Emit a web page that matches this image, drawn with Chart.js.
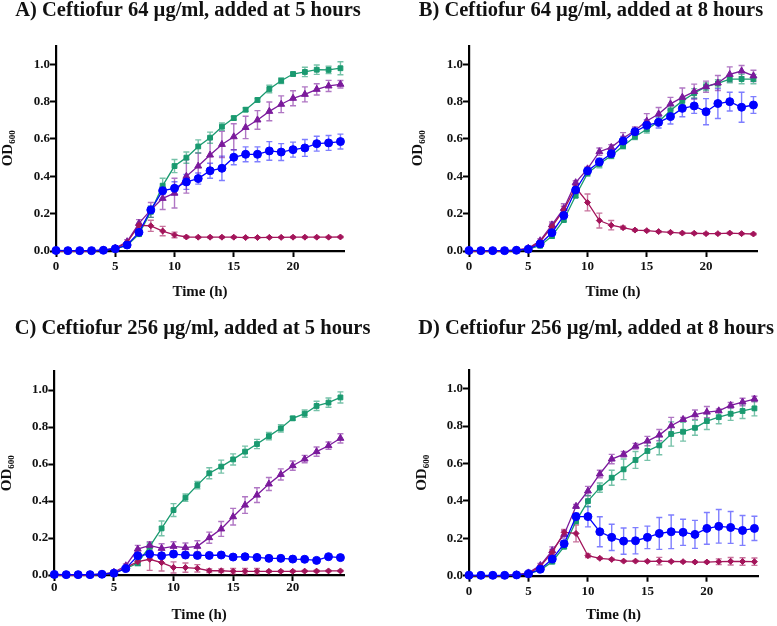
<!DOCTYPE html>
<html>
<head>
<meta charset="utf-8">
<script src="https://cdn.jsdelivr.net/npm/chart.js@4.4.1/dist/chart.umd.min.js"></script>
<style>
  body { margin: 0; background: #fff; }
  #wrap { position: relative; width: 777px; height: 626px; overflow: hidden; }
  canvas { position: absolute; }
</style>
</head>
<body>
<div id="wrap">
  <canvas id="chartA" width="376" height="305" style="left:0px;top:0px"></canvas>
  <canvas id="chartB" width="372" height="305" style="left:405px;top:0px"></canvas>
  <canvas id="chartC" width="385" height="308" style="left:0px;top:318px"></canvas>
  <canvas id="chartD" width="362" height="308" style="left:415px;top:318px"></canvas>
</div>
<script>
// time points (h) and axis ticks
const hours = [0,1,2,3,4,5,6,7,8,9,10,11,12,13,14,15,16,17,18,19,20,21,22,23,24];
const xTicks = [0, 5, 10, 15, 20];
const yTicks = [0, 0.2, 0.4, 0.6, 0.8, 1.0];

// Panel A - 64 ug/ml at 5 h
const aGreen = [0,0,0,0,0.005,0.012,0.03,0.09,0.21,0.35,0.455,0.5,0.56,0.607,0.666,0.712,0.757,0.809,0.868,0.912,0.948,0.959,0.971,0.97,0.979];
const aGreenErr = [0,0,0,0,0,0.003,0.005,0.01,0.03,0.04,0.035,0.03,0.035,0.03,0.02,0.01,0.01,0.01,0.02,0.015,0.01,0.025,0.025,0.02,0.035];
const aPurple = [0,0,0,0,0.005,0.015,0.05,0.148,0.22,0.282,0.31,0.4,0.455,0.514,0.571,0.612,0.662,0.702,0.748,0.786,0.818,0.839,0.866,0.884,0.893];
const aPurpleErr = [0,0,0,0.01,0,0.005,0.01,0.02,0.04,0.06,0.08,0.09,0.07,0.09,0.07,0.07,0.06,0.05,0.05,0.045,0.04,0.04,0.03,0.03,0.02];
const aBlue = [0.003,0.002,0.002,0.002,0.004,0.012,0.032,0.1,0.22,0.323,0.336,0.37,0.388,0.43,0.443,0.502,0.518,0.518,0.536,0.53,0.543,0.552,0.575,0.579,0.586];
const aBlueErr = [0,0,0,0,0,0.005,0.005,0.01,0.02,0.02,0.035,0.04,0.03,0.04,0.065,0.04,0.04,0.04,0.05,0.045,0.04,0.045,0.04,0.04,0.04];
const aRed = [0,0,0,0,0.005,0.012,0.045,0.138,0.135,0.107,0.086,0.075,0.074,0.074,0.074,0.074,0.072,0.072,0.073,0.073,0.074,0.074,0.074,0.074,0.075];
const aRedErr = [0,0,0,0,0,0.003,0.005,0.01,0.03,0.025,0.015,0.005,0.004,0.004,0.004,0.004,0.004,0.004,0.004,0.004,0.004,0.004,0.004,0.004,0.004];

// Panel B - 64 ug/ml at 8 h
const bGreen = [0,0,0,0,0.003,0.01,0.028,0.08,0.166,0.296,0.416,0.466,0.51,0.562,0.612,0.652,0.693,0.752,0.804,0.845,0.88,0.898,0.921,0.921,0.921];
const bGreenErr = [0,0,0,0,0,0.003,0.005,0.01,0.01,0.01,0.015,0.02,0.015,0.015,0.015,0.02,0.02,0.02,0.02,0.025,0.02,0.02,0.02,0.025,0.025];
const bPurple = [0,0,0,0,0.005,0.015,0.055,0.14,0.228,0.366,0.44,0.532,0.555,0.604,0.645,0.696,0.734,0.788,0.823,0.854,0.88,0.9,0.946,0.964,0.938];
const bPurpleErr = [0,0,0,0.01,0,0.005,0.01,0.015,0.025,0.01,0.01,0.02,0.015,0.03,0.02,0.04,0.035,0.035,0.05,0.04,0.03,0.04,0.04,0.03,0.03];
const bBlue = [0.003,0.002,0.002,0.002,0.004,0.01,0.038,0.098,0.19,0.327,0.429,0.477,0.521,0.589,0.639,0.673,0.689,0.72,0.764,0.777,0.746,0.79,0.8,0.77,0.782];
const bBlueErr = [0,0,0,0,0,0.003,0.005,0.01,0.01,0.01,0.015,0.02,0.02,0.025,0.02,0.03,0.03,0.04,0.045,0.04,0.07,0.08,0.05,0.08,0.045];
const bRed = [0,0,0,0,0.005,0.012,0.05,0.13,0.22,0.34,0.26,0.163,0.138,0.125,0.112,0.109,0.104,0.1,0.096,0.095,0.093,0.093,0.096,0.093,0.091];
const bRedErr = [0,0,0,0,0,0.003,0.005,0.015,0.02,0.01,0.045,0.04,0.025,0.008,0.005,0.005,0.005,0.005,0.005,0.005,0.005,0.005,0.005,0.005,0.005];

// Panel C - 256 ug/ml at 5 h
const cGreen = [0,0,0,0,0.004,0.01,0.034,0.065,0.153,0.252,0.351,0.418,0.486,0.55,0.586,0.625,0.667,0.708,0.751,0.793,0.847,0.872,0.914,0.932,0.96];
const cGreenErr = [0,0,0,0,0,0.003,0.005,0.015,0.02,0.04,0.035,0.02,0.02,0.03,0.035,0.03,0.03,0.025,0.02,0.02,0.01,0.02,0.025,0.025,0.03];
const cPurple = [0,0,0,0,0.005,0.015,0.05,0.14,0.16,0.144,0.155,0.148,0.155,0.202,0.249,0.315,0.378,0.432,0.492,0.544,0.591,0.627,0.667,0.699,0.739];
const cPurpleErr = [0,0,0,0.01,0,0.005,0.01,0.02,0.02,0.025,0.025,0.025,0.03,0.03,0.04,0.045,0.045,0.04,0.035,0.03,0.025,0.02,0.025,0.02,0.025];
const cBlue = [0.003,0.002,0.002,0.002,0.004,0.01,0.035,0.104,0.113,0.104,0.113,0.108,0.106,0.106,0.108,0.097,0.099,0.095,0.09,0.09,0.086,0.085,0.079,0.099,0.094];
const cBlueErr = [0,0,0,0,0,0.003,0.005,0.01,0.005,0.005,0.015,0.015,0.015,0.015,0.01,0.005,0.005,0.005,0.005,0.005,0.005,0.005,0.005,0.005,0.005];
const cRed = [0,0,0,0,0.004,0.01,0.04,0.072,0.085,0.067,0.041,0.04,0.036,0.023,0.023,0.02,0.02,0.02,0.02,0.02,0.02,0.021,0.021,0.022,0.022];
const cRedErr = [0,0,0,0,0,0.003,0.005,0.02,0.06,0.045,0.03,0.025,0.02,0.01,0.01,0.015,0.015,0.015,0.005,0.004,0.004,0.004,0.005,0.004,0.004];

// Panel D - 256 ug/ml at 8 h
const dGreen = [0,0,0,0,0.004,0.01,0.03,0.075,0.155,0.292,0.399,0.471,0.524,0.569,0.619,0.667,0.697,0.758,0.77,0.791,0.827,0.848,0.866,0.881,0.895];
const dGreenErr = [0,0,0,0,0,0.003,0.005,0.01,0.01,0.015,0.03,0.025,0.04,0.055,0.045,0.05,0.05,0.065,0.05,0.04,0.045,0.035,0.035,0.04,0.04];
const dPurple = [0,0,0,0,0.005,0.015,0.055,0.134,0.221,0.371,0.453,0.544,0.624,0.649,0.693,0.72,0.752,0.802,0.836,0.861,0.875,0.882,0.911,0.929,0.945];
const dPurpleErr = [0,0,0,0.01,0,0.005,0.01,0.02,0.02,0.01,0.025,0.02,0.025,0.015,0.015,0.025,0.03,0.045,0.01,0.025,0.03,0.01,0.015,0.02,0.015];
const dBlue = [0.003,0.002,0.002,0.002,0.004,0.01,0.035,0.089,0.171,0.316,0.316,0.235,0.205,0.185,0.187,0.205,0.226,0.235,0.232,0.221,0.253,0.264,0.258,0.242,0.253];
const dBlueErr = [0,0,0,0,0,0.003,0.005,0.01,0.01,0.02,0.055,0.08,0.07,0.07,0.07,0.06,0.085,0.09,0.07,0.075,0.085,0.09,0.085,0.08,0.065];
const dRed = [0,0,0,0,0.004,0.01,0.05,0.125,0.232,0.226,0.107,0.093,0.087,0.078,0.078,0.077,0.078,0.076,0.075,0.073,0.073,0.075,0.077,0.076,0.075];
const dRedErr = [0,0,0,0,0,0.003,0.005,0.015,0.015,0.045,0.01,0.005,0.005,0.004,0.004,0.004,0.02,0.004,0.004,0.004,0.004,0.015,0.02,0.02,0.02];

const serif = "'Liberation Serif', 'Times New Roman', 'DejaVu Serif', serif";
Chart.defaults.font.family = serif;
Chart.defaults.color = "#000";

// marker look for each series
const styles = {
  blue:   { color: "#0000ff", err: "rgba(40,40,255,0.6)",  shape: "circle",   r: 4 },
  red:    { color: "#a3145a", err: "rgba(163,20,90,0.6)",  shape: "rectRot",  r: 3 },
  purple: { color: "#7b1a9c", err: "rgba(123,26,156,0.6)", shape: "triangle", r: 4 },
  green:  { color: "#1a9a70", err: "rgba(26,154,112,0.6)", shape: "rect",     r: 3.4 },
};

// draws mean +/- SD whiskers from each dataset's errors array
const errorBars = {
  id: "errorBars",
  beforeDatasetsDraw(chart) {
    const ctx = chart.ctx;
    const xs = chart.scales.x;
    const ys = chart.scales.y;
    chart.data.datasets.forEach((ds) => {
      ctx.save();
      ctx.strokeStyle = ds.errorColor;
      ctx.lineWidth = 1.4;
      ds.data.forEach((pt, j) => {
        const e = ds.errors[j];
        if (!e) return;
        const px = xs.getPixelForValue(pt.x);
        const hi = ys.getPixelForValue(pt.y + e);
        const lo = ys.getPixelForValue(pt.y - e);
        ctx.beginPath();
        ctx.moveTo(px, hi);
        ctx.lineTo(px, lo);
        ctx.moveTo(px - 3, hi);
        ctx.lineTo(px + 3, hi);
        ctx.moveTo(px - 3, lo);
        ctx.lineTo(px + 3, lo);
        ctx.stroke();
      });
      ctx.restore();
    });
  },
};

function makeDataset(key, vals, errs) {
  const s = styles[key];
  return {
    label: key,
    data: hours.map((h, i) => ({ x: h, y: vals[i] })),
    errors: errs,
    errorColor: s.err,
    borderColor: s.color,
    backgroundColor: s.color,
    borderWidth: 1.3,
    pointStyle: s.shape,
    pointRadius: s.r,
    pointBorderWidth: 1,
    pointBorderColor: s.color,
    pointBackgroundColor: s.color,
    clip: false,
  };
}

function makeChart(id, title, sets, box) {
  const axisFont = { family: serif, size: 13, weight: "bold", lineHeight: 1 };
  const titleFont = { family: serif, size: 15, weight: "bold", lineHeight: 1 };
  return new Chart(document.getElementById(id), {
    type: "line",
    data: { datasets: sets },
    options: {
      responsive: false,
      animation: false,
      layout: { padding: 0 },
      plugins: {
        legend: { display: false },
        tooltip: { enabled: false },
        title: {
          display: true,
          text: title,
          color: "#111",
          font: { family: serif, size: 20.5, weight: "bold", lineHeight: 0.88 },
          padding: { top: 2, bottom: box.titleGap - 2 },
        },
      },
      scales: {
        x: {
          type: "linear",
          min: 0,
          max: 24.3,
          afterBuildTicks: (s) => { s.ticks = xTicks.map((v) => ({ value: v })); },
          afterFit: (s) => { s.height = box.xHeight; },
          grid: { drawOnChartArea: false, drawTicks: true, tickLength: 6, tickColor: "#000", tickWidth: 2 },
          border: { color: "#000", width: 2.2 },
          ticks: { font: axisFont, padding: box.xTickPad, maxRotation: 0, color: "#111" },
          title: { display: true, text: "Time (h)", font: titleFont, color: "#111", padding: { top: 0, bottom: box.xTitlePad } },
        },
        y: {
          type: "linear",
          min: 0,
          max: 1.1,
          afterBuildTicks: (s) => { s.ticks = yTicks.map((v) => ({ value: v })); },
          afterFit: (s) => { s.width = box.yWidth; },
          grid: { drawOnChartArea: false, drawTicks: true, tickLength: 6, tickColor: "#000", tickWidth: 2 },
          border: { color: "#000", width: 2.2 },
          ticks: { font: axisFont, padding: 0, color: "#111", callback: (v) => v.toFixed(1) },
          title: { display: true, text: "OD\u2086\u2080\u2080", font: titleFont, color: "#111", padding: { top: box.yTitlePad, bottom: 0 } },
        },
        yR: {
          type: "linear",
          position: "right",
          display: true,
          afterFit: (s) => { s.width = box.rightWidth; },
          grid: { display: false },
          border: { display: false },
          ticks: { display: false },
        },
      },
    },
    plugins: [errorBars],
  });
}

makeChart("chartA", "A) Ceftiofur 64 \u00b5g/ml, added at 5 hours", [
  makeDataset("blue", aBlue, aBlueErr),
  makeDataset("red", aRed, aRedErr),
  makeDataset("purple", aPurple, aPurpleErr),
  makeDataset("green", aGreen, aGreenErr),
], { titleGap: 27.6, xHeight: 54, xTickPad: 3, xTitlePad: 5.5, yWidth: 56, yTitlePad: 0.5, rightWidth: 32 });

makeChart("chartB", "B) Ceftiofur 64 \u00b5g/ml, added at 8 hours", [
  makeDataset("blue", bBlue, bBlueErr),
  makeDataset("red", bRed, bRedErr),
  makeDataset("purple", bPurple, bPurpleErr),
  makeDataset("green", bGreen, bGreenErr),
], { titleGap: 27.6, xHeight: 54, xTickPad: 3, xTitlePad: 5.5, yWidth: 64, yTitlePad: 5.5, rightWidth: 20 });

makeChart("chartC", "C) Ceftiofur 256 \u00b5g/ml, added at 5 hours", [
  makeDataset("blue", cBlue, cBlueErr),
  makeDataset("red", cRed, cRedErr),
  makeDataset("purple", cPurple, cPurpleErr),
  makeDataset("green", cGreen, cGreenErr),
], { titleGap: 35.5, xHeight: 51, xTickPad: 0, xTitlePad: 3.5, yWidth: 54.3, yTitlePad: 0, rightWidth: 41 });

makeChart("chartD", "D) Ceftiofur 256 \u00b5g/ml, added at 8 hours", [
  makeDataset("blue", dBlue, dBlueErr),
  makeDataset("red", dRed, dRedErr),
  makeDataset("purple", dPurple, dPurpleErr),
  makeDataset("green", dGreen, dGreenErr),
], { titleGap: 34, xHeight: 50.3, xTickPad: 3, xTitlePad: 3.5, yWidth: 54, yTitlePad: 0, rightWidth: 19 });
</script>
</body>
</html>
